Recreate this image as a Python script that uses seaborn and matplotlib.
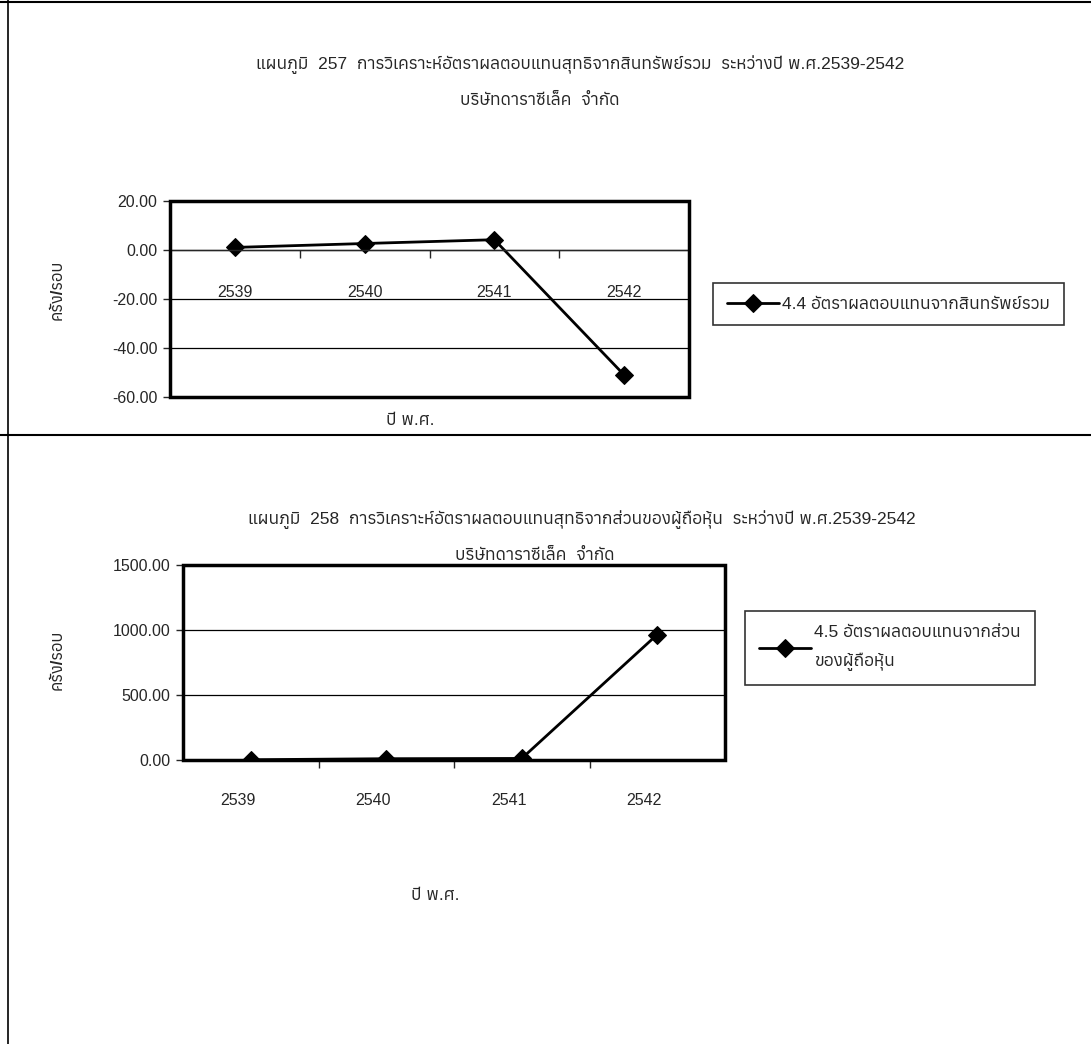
import seaborn as sns
import pandas as pd
import numpy as np
import matplotlib
matplotlib.use("Agg")
import matplotlib.pyplot as plt
import matplotlib.transforms as mtrans
from matplotlib import font_manager
from matplotlib.ft2font import FT2Font
from matplotlib.lines import Line2D
from matplotlib.patches import Rectangle

# data
years = ["2539", "2540", "2541", "2542"]
roa = [1.05, 2.65, 4.20, -51.0]          # 4.4 return on total assets
roe = [2.0, 10.0, 12.0, 965.0]           # 4.5 return on equity

title1 = "แผนภูมิ  257  การวิเคราะห์อัตราผลตอบแทนสุทธิจากสินทรัพย์รวม  ระหว่างปี พ.ศ.2539-2542"
title2 = "แผนภูมิ  258  การวิเคราะห์อัตราผลตอบแทนสุทธิจากส่วนของผู้ถือหุ้น  ระหว่างปี พ.ศ.2539-2542"
subtitle = "บริษัทดาราซีเล็ค  จำกัด"
label1 = "4.4 อัตราผลตอบแทนจากสินทรัพย์รวม"
label2 = "4.5 อัตราผลตอบแทนจากส่วน\nของผู้ถือหุ้น"
ylab = "ครั้ง/รอบ"
xlab = "ปี พ.ศ."

sns.set_style("white")

# look for an installed font that has Thai glyphs, keep Liberation Sans for latin
thai = []
for f in font_manager.fontManager.ttflist:
    try:
        if 0x0E01 in FT2Font(f.fname).get_charmap():
            thai.append(f.name)
    except Exception:
        pass
fams = ["Liberation Sans"] + sorted(set(thai)) + ["DejaVu Sans"]
plt.rcParams["font.family"] = fams

df1 = pd.DataFrame({"year": years, "value": roa})
df2 = pd.DataFrame({"year": years, "value": roe})

W, H = 1091, 1044
fig = plt.figure(figsize=(W / 100, H / 100), dpi=100)

def fx(px):
    return px / W

def fy(py):
    return 1 - py / H

# page frame lines of the scan
fig.add_artist(Line2D([0, 1], [fy(2), fy(2)], color="black", lw=1.5))
fig.add_artist(Line2D([fx(8), fx(8)], [0, 1], color="black", lw=1.2))
fig.add_artist(Line2D([0, 1], [fy(435), fy(435)], color="black", lw=1.5))


def draw(ax, df, ylim, yticks, label, cat_y=None, shift=0):
    sns.lineplot(data=df, x="year", y="value", ax=ax, color="black", lw=2,
                 marker="D", markersize=9, markeredgecolor="black",
                 label=label, sort=False)
    ax.set_xlim(-0.5, 3.5)
    ax.set_ylim(*ylim)
    ax.set_yticks(yticks)
    ax.set_yticklabels(["%.2f" % v for v in yticks], fontsize=11.5)
    for v in yticks[1:-1]:
        ax.axhline(v, color="black", lw=0.9, zorder=0)
    for s in ax.spines.values():
        s.set_visible(False)
    ax.add_patch(Rectangle((0, 0), 1, 1, transform=ax.transAxes, fill=False,
                           edgecolor="black", lw=2.5, clip_on=False, zorder=5))
    ax.tick_params(axis="y", left=True, length=5, width=1, pad=4)
    ax.set_xlabel("")
    ax.set_ylabel("")
    ax.set_xticks([0.5, 1.5, 2.5])
    ax.set_xticklabels([])
    ax.spines["bottom"].set_visible(True)
    ax.spines["bottom"].set_position(("data", 0))
    ax.spines["bottom"].set_linewidth(1)
    ax.tick_params(axis="x", bottom=True, length=6, width=1, direction="out")
    ax.get_legend().remove()
    off = mtrans.offset_copy(ax.transData, fig=fig, x=shift, y=0, units="dots")
    if cat_y is None:
        off = mtrans.offset_copy(ax.get_xaxis_transform(), fig=fig, x=shift,
                                 y=0, units="dots")
        for i, yr in enumerate(years):
            ax.text(i, -0.17, yr, transform=off, ha="center", va="top",
                    fontsize=11.5)
    else:
        for i, yr in enumerate(years):
            ax.text(i, cat_y, yr, transform=off, ha="center", va="bottom",
                    fontsize=11.5)


ax1 = fig.add_axes([fx(170), fy(397), fx(689 - 170), (397 - 201) / H])
draw(ax1, df1, (-60, 20), [-60, -40, -20, 0, 20], label1, cat_y=-20.5)

ax2 = fig.add_axes([fx(183), fy(760), fx(725 - 183), (760 - 565) / H])
draw(ax2, df2, (0, 1500), [0, 500, 1000, 1500], label2, shift=-13)

# legends
h1, _ = ax1.get_legend_handles_labels()
leg1 = fig.legend(h1, [label1], loc="center left",
                  bbox_to_anchor=(fx(713), fy(304)), frameon=True, fancybox=False,
                  edgecolor="black", fontsize=12.5, handlelength=3.0,
                  borderpad=0.8, handletextpad=0.2, borderaxespad=0)
leg1.get_frame().set_linewidth(1.2)
h2, _ = ax2.get_legend_handles_labels()
leg2 = fig.legend(h2, [label2], loc="center left",
                  bbox_to_anchor=(fx(745), fy(648)), frameon=True, fancybox=False,
                  edgecolor="black", fontsize=12.5, handlelength=3.0,
                  borderpad=0.8, handletextpad=0.2, borderaxespad=0)
leg2.get_frame().set_linewidth(1.2)
for t in leg2.get_texts():
    t.set_linespacing(2.0)

# titles and axis labels
fig.text(fx(580), fy(65), title1, ha="center", va="center", fontsize=12.5)
fig.text(fx(540), fy(100), subtitle, ha="center", va="center", fontsize=12.5)
fig.text(fx(582), fy(520), title2, ha="center", va="center", fontsize=12.5)
fig.text(fx(535), fy(555), subtitle, ha="center", va="center", fontsize=12.5)

fig.text(fx(57), fy(290), ylab, rotation=90, ha="center", va="center",
         fontsize=12, fontweight="bold")
fig.text(fx(57), fy(660), ylab, rotation=90, ha="center", va="center",
         fontsize=12, fontweight="bold")
fig.text(fx(410), fy(420), xlab, ha="center", va="center", fontsize=12.5)
fig.text(fx(435), fy(895), xlab, ha="center", va="center", fontsize=12.5)

fig.savefig("out.png", dpi=100)
